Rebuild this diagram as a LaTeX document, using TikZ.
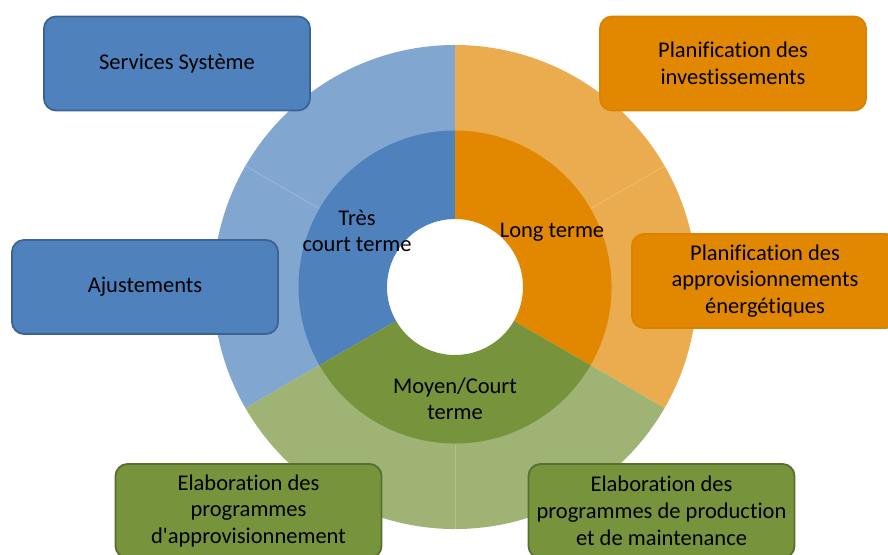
\documentclass[tikz,border=0pt]{standalone}
\usepackage{fontspec}
\setmainfont{Carlito}[Ligatures=NoCommon]
\definecolor{blueD}{HTML}{4F81BD}
\definecolor{blueL}{HTML}{81A7D1}
\definecolor{blueB}{HTML}{3B6494}
\definecolor{orangeD}{HTML}{E28700}
\definecolor{orangeL}{HTML}{EBAB4F}
\definecolor{orangeB}{HTML}{D98300}
\definecolor{greenD}{HTML}{77933C}
\definecolor{greenL}{HTML}{9FB374}
\definecolor{greenB}{HTML}{586F2E}
\newcommand\annsect[5]{\fill[#1] (#2:#5) arc[start angle=#2,end angle=#3,radius=#5] -- (#3:#4) arc[start angle=#3,end angle=#2,radius=#4] -- cycle;}
\tikzset{
  box/.style={rounded corners=12pt, line width=1.8pt, minimum width=266pt, minimum height=94pt,
    align=center, text=black, font=\fontsize{22.5}{26.8}\selectfont, inner sep=0pt},
  bluebox/.style={box, fill=blueD, draw=blueB},
  orangebox/.style={box, fill=orangeD, draw=orangeB},
  greenbox/.style={box, fill=greenD, draw=greenB},
  ringlabel/.style={align=center, text=black, font=\fontsize{22.5}{26}\selectfont, inner sep=0pt},
  sepline/.style={draw=white, opacity=0.2, line width=0.8pt}
}
\begin{document}
\begin{tikzpicture}[x=1pt,y=1pt]
\useasboundingbox (0,0) rectangle (888,554);
\clip (0,0) rectangle (888,554);
\begin{scope}[shift={(455,267)}]
  \annsect{blueL}{90}{210}{156}{242}
  \annsect{orangeL}{-30}{90}{156}{242}
  \annsect{greenL}{210}{330}{156}{242}
  \draw[sepline] (150:156) -- (150:242);
  \draw[sepline] (30:156) -- (30:242);
  \draw[sepline] (270:156) -- (270:242);
  \annsect{blueD}{90}{210}{68}{156.5}
  \annsect{orangeD}{-30}{90}{68}{156.5}
  \annsect{greenD}{210}{330}{68}{156.5}
\end{scope}
\node[ringlabel] (tct) at (357,323) {Très\\court terme};
\node[ringlabel] (lt) at (552,322) {Long terme};
\node[ringlabel] (mct) at (455,155) {Moyen/Court\\terme};
\node[bluebox] (ss) at (177,490.5) {Services Système};
\node[bluebox] (aj) at (145,267) {Ajustements};
\node[orangebox] (pi) at (733,490.5) {Planification des\\investissements};
\node[orangebox] (pa) at (765,273) {Planification des\\approvisionnements\\énergétiques};
\node[greenbox] (el) at (248.5,43) {Elaboration des\\programmes\\d\textquotesingle approvisionnement};
\node[greenbox] (er) at (661.5,43) {Elaboration des\\programmes de production\\et de maintenance};
\end{tikzpicture}
\end{document}
